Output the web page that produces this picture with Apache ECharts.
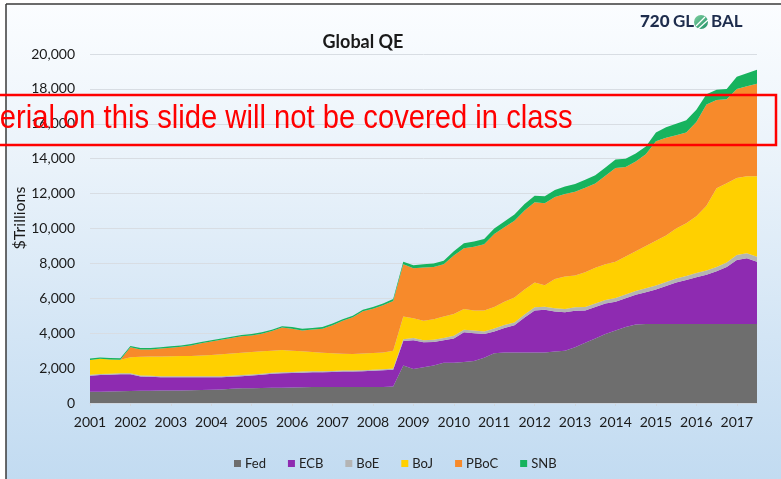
<!DOCTYPE html>
<html>
<head>
<meta charset="utf-8">
<script src="https://cdn.jsdelivr.net/npm/echarts@6/dist/echarts.min.js"></script>
<style>
  html, body { margin: 0; padding: 0; background: #ffffff; }
  #wrap { position: relative; width: 781px; height: 479px; overflow: hidden; background: #ffffff; }
  #bg { position: absolute; left: 6px; top: 4px; right: 0; bottom: 0;
        background: linear-gradient(to bottom, #fbfdff 0%, #e9f2fa 35%, #d3e5f5 70%, #c2dbf1 100%); }
  #c { position: absolute; left: 0; top: 0; width: 781px; height: 479px; }
</style>
</head>
<body>
<div id="wrap"><div id="bg"></div><div id="c"></div></div>
<script>
// ---- Data (quarterly, 2001Q1 .. 2017Q3), values in $ billions as plotted ----
const years = [2001,2002,2003,2004,2005,2006,2007,2008,2009,2010,2011,2012,2013,2014,2015,2016,2017];
const quarters = [];
years.forEach(y => { for (let q = 1; q <= 4; q++) { if (quarters.length < 67) quarters.push(y + 'Q' + q); } });

const seriesNames = ['Fed', 'ECB', 'BoE', 'BoJ', 'PBoC', 'SNB'];

const fed = [
  650,650,660,670,
  690,700,700,710,
  720,720,730,740,
  760,780,820,840,
  850,860,870,880,
  890,900,910,910,
  910,920,920,920,
  920,920,950,2150,
  1950,2050,2150,2300,
  2300,2350,2400,2600,
  2850,2900,2900,2900,
  2900,2900,2950,3000,
  3200,3450,3700,3950,
  4150,4350,4500,4530,
  4530,4530,4530,4530,
  4530,4530,4530,4530,
  4530,4530,4530];

const ecb = [
  910,950,960,980,
  960,820,800,770,
  750,750,740,730,
  710,700,680,700,
  730,760,810,820,
  830,840,850,850,
  870,880,880,900,
  930,960,960,1400,
  1650,1430,1350,1300,
  1400,1700,1600,1350,
  1250,1400,1550,2000,
  2400,2440,2300,2200,
  2080,1850,1800,1750,
  1650,1650,1700,1820,
  1970,2170,2370,2520,
  2670,2820,3020,3270,
  3670,3770,3570];

const boe = [
  60,60,60,60,
  60,60,60,60,
  60,60,60,60,
  60,60,60,60,
  60,60,60,60,
  60,60,60,60,
  60,60,60,60,
  60,60,60,100,
  120,120,120,120,
  150,150,150,150,
  170,170,170,170,
  180,180,180,180,
  200,200,200,200,
  220,220,220,220,
  230,230,230,230,
  250,250,250,250,
  280,280,280];

const boj = [
  850,870,820,770,
  910,1070,1100,1130,
  1150,1160,1170,1190,
  1220,1250,1270,1280,
  1280,1280,1260,1280,
  1220,1160,1100,1060,
  1010,960,950,950,
  960,960,1030,1300,
  1130,1120,1180,1230,
  1250,1190,1150,1200,
  1230,1330,1430,1430,
  1420,1230,1670,1870,
  1820,2000,2050,2050,
  2080,2180,2280,2430,
  2570,2670,2870,3020,
  3250,3700,4500,4550,
  4420,4420,4610];

const pboc = [
  0,0,0,0,
  570,420,410,450,
  490,530,600,700,
  770,830,890,940,
  950,1010,1120,1280,
  1260,1200,1290,1380,
  1610,1890,2100,2430,
  2530,2700,2850,3000,
  2870,3050,3000,3000,
  3350,3480,3650,3800,
  4180,4270,4400,4530,
  4600,4700,4700,4730,
  4800,4840,4830,5070,
  5370,5120,5140,5250,
  5700,5600,5350,5200,
  5400,5800,5070,4800,
  5100,5150,5310];

const snb = [
  80,80,80,80,
  80,80,80,80,
  80,80,80,80,
  80,80,80,80,
  80,80,80,80,
  90,90,90,90,
  90,90,90,90,
  100,100,110,150,
  180,180,200,200,
  250,280,300,300,
  320,330,350,370,
  380,400,400,420,
  450,460,470,480,
  480,480,460,450,
  500,600,650,700,
  700,600,580,600,
  700,750,800];

const yTicks = [0,2000,4000,6000,8000,10000,12000,14000,16000,18000,20000];

const colors = ['#6e6e6e', '#8e2bb1', '#b4b4b4', '#ffd000', '#f78a2b', '#17b35e'];
const dataSets = [fed, ecb, boe, boj, pboc, snb];

const chart = echarts.init(document.getElementById('c'), null, { renderer: 'canvas' });

const FONT = 'Lato, "Open Sans", sans-serif';

const option = {
  animation: false,
  backgroundColor: 'transparent',
  color: colors,
  title: {
    text: 'Global QE',
    left: 358, top: 28,
    textAlign: 'center',
    textStyle: { fontFamily: FONT, fontSize: 18, fontWeight: 'bold', color: '#1a1a1a' }
  },
  legend: {
    data: seriesNames,
    left: 229, top: 452,
    icon: 'rect',
    itemWidth: 7, itemHeight: 7,
    itemGap: 22,
    textStyle: { fontFamily: FONT, fontSize: 13, color: '#222', padding: [0, 0, 0, -1] }
  },
  grid: { left: 90, right: 24, top: 54, bottom: 76, containLabel: false },
  xAxis: {
    type: 'category',
    data: quarters,
    boundaryGap: false,
    axisLine: { show: true, lineStyle: { color: '#cfd6de', width: 1 } },
    axisTick: { show: true, interval: 3, length: 3, lineStyle: { color: '#cfd6de' } },
    axisLabel: {
      interval: 3,
      margin: 12,
      fontFamily: FONT, fontSize: 14, color: '#1a1a1a',
      formatter: v => v.slice(0, 4)
    },
    splitLine: { show: false }
  },
  yAxis: {
    type: 'value',
    min: yTicks[0], max: yTicks[yTicks.length - 1], interval: 2000,
    axisLine: { show: false },
    axisTick: { show: false },
    axisLabel: {
      margin: 15,
      fontFamily: FONT, fontSize: 14, color: '#1a1a1a',
      formatter: v => v.toLocaleString('en-US')
    },
    splitLine: { show: true, lineStyle: { color: '#d8dde3', width: 1 } }
  },
  series: seriesNames.map((name, i) => ({
    name: name,
    type: 'line',
    stack: 'total',
    data: dataSets[i],
    symbol: 'none',
    showSymbol: false,
    lineStyle: { width: 0 },
    areaStyle: { color: colors[i], opacity: 1 },
    itemStyle: { color: colors[i] },
    emphasis: { disabled: true },
    z: 2
  })),
  graphic: [
    // slide frame lines
    { type: 'line', shape: { x1: 6, y1: 4, x2: 781, y2: 4 }, style: { stroke: '#3a3a3a', lineWidth: 1.5 }, z: 10 },
    { type: 'line', shape: { x1: 6, y1: 4, x2: 6, y2: 479 }, style: { stroke: '#3a3a3a', lineWidth: 1.5 }, z: 10 },
    // y axis name
    { type: 'text', x: 20, y: 218, rotation: Math.PI / 2,
      style: { text: '$Trillions', fontFamily: FONT, fontSize: 16, fill: '#1a1a1a', align: 'center', verticalAlign: 'middle' }, z: 10 },
    // logo
    { type: 'text', x: 640, y: 22, style: { text: '720', fontFamily: FONT, fontSize: 17, fontWeight: 900, fill: '#1e2d4d', align: 'left', verticalAlign: 'middle' }, z: 10 },
    { type: 'text', x: 673, y: 22, style: { text: 'GL', fontFamily: FONT, fontSize: 17, fontWeight: 'bold', fill: '#1e2d4d', align: 'left', verticalAlign: 'middle' }, z: 10 },
    { type: 'circle', shape: { cx: 701, cy: 22, r: 7 },
      style: { fill: new echarts.graphic.LinearGradient(0, 0, 1, 1, [{ offset: 0, color: '#7fd0a0' }, { offset: 1, color: '#1f8f66' }]) }, z: 10 },
    { type: 'line', shape: { x1: 696, y1: 26, x2: 705, y2: 17 }, style: { stroke: '#ffffff', lineWidth: 1.2 }, z: 11 },
    { type: 'line', shape: { x1: 698, y1: 29, x2: 708, y2: 20 }, style: { stroke: '#ffffff', lineWidth: 1.2 }, z: 11 },
    { type: 'text', x: 711, y: 22, style: { text: 'BAL', fontFamily: FONT, fontSize: 17, fontWeight: 'bold', fill: '#1e2d4d', align: 'left', verticalAlign: 'middle' }, z: 10 },
    // red disclaimer box
    { type: 'rect', shape: { x: -3, y: 95, width: 779, height: 50 },
      style: { fill: 'none', stroke: '#ff0000', lineWidth: 2.5 }, z: 20 },
    { type: 'text', x: -49, y: 119, scaleX: 0.885, scaleY: 1,
      style: { text: 'Material on this slide will not be covered in class', fontFamily: '"Liberation Sans", Arial, sans-serif', fontSize: 33, fill: '#ff0000', align: 'left', verticalAlign: 'middle' }, z: 20 }
  ]
};

chart.setOption(option);
</script>
</body>
</html>
